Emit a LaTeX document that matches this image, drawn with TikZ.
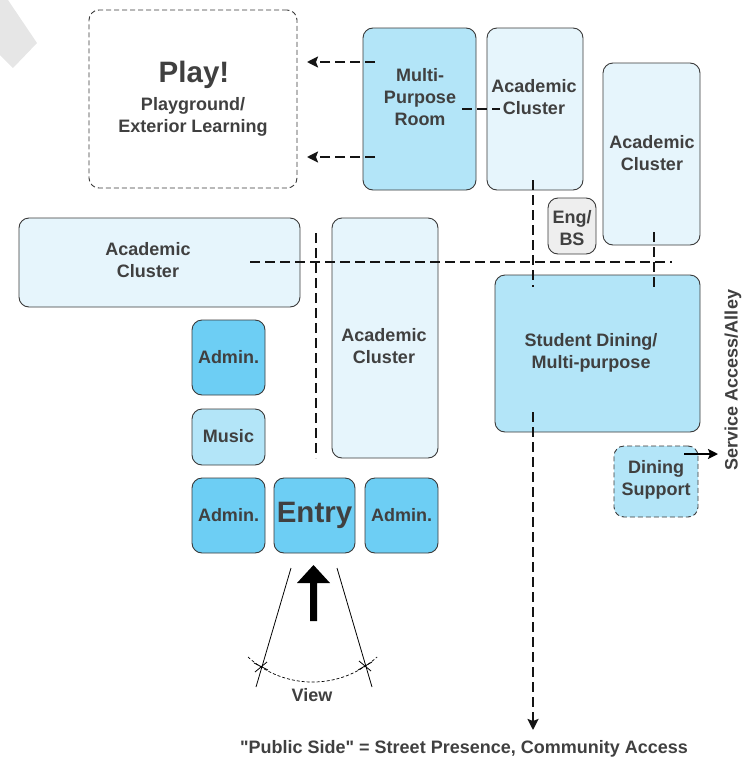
\documentclass[tikz,border=0pt]{standalone}
\usepackage{fontspec}
\setmainfont{Liberation Sans}
\usetikzlibrary{arrows.meta}

\definecolor{medblue}{HTML}{6DCEF4}
\definecolor{lightblue}{HTML}{B3E5F8}
\definecolor{paleblue}{HTML}{E6F5FC}
\definecolor{enggray}{HTML}{EEEEEE}
\definecolor{inkgray}{HTML}{404040}
\definecolor{edgegray}{HTML}{3A3A3A}
\definecolor{cornergray}{HTML}{E6E6E6}

\tikzset{
  room/.style={draw=edgegray, line width=0.9pt, rounded corners=10pt, inner sep=0pt},
  openroom/.style={room, dash pattern=on 5pt off 3pt, draw=edgegray},
  lbl/.style={text=inkgray, font=\bfseries\fontsize{18}{22}\selectfont, align=center, inner sep=0pt},
  biglbl/.style={lbl, font=\bfseries\fontsize{29.5}{32}\selectfont},
  sitelbl/.style={lbl, font=\bfseries\fontsize{18}{21}\selectfont},
  flow/.style={line width=2.8pt, dash pattern=on 10pt off 5pt, draw=black!92},
  flowtip/.style={flow, -{Stealth[length=11pt,width=11pt,inset=2pt]}},
  sightline/.style={line width=0.8pt, black}
}

\begin{document}
\begin{tikzpicture}[x=1pt,y=-1pt]
\useasboundingbox (0,0) rectangle (753,763);

% grey corner tab
\fill[cornergray] (0,0) -- (8,0) -- (37,43) -- (13,68) -- (0,55) -- cycle;

% ---- rooms ----
\node[openroom, fill=white, minimum width=208pt, minimum height=178pt] (play) at (193,99) {};
\node[room, fill=lightblue, minimum width=113pt, minimum height=162pt] (mpr) at (419.5,109) {};
\node[room, fill=paleblue, minimum width=96pt, minimum height=162pt] (acTop) at (535,109) {};
\node[room, fill=paleblue, minimum width=97pt, minimum height=182pt] (acRight) at (651.5,154) {};
\node[room, fill=enggray, minimum width=48pt, minimum height=56pt] (eng) at (572,226) {};
\node[room, fill=paleblue, minimum width=281pt, minimum height=89pt] (acLeft) at (159.5,262.5) {};
\node[room, fill=paleblue, minimum width=106pt, minimum height=240pt] (acMid) at (385,338) {};
\node[room, fill=lightblue, minimum width=205pt, minimum height=157pt] (dining) at (597.5,353.5) {};
\node[openroom, fill=lightblue, minimum width=84pt, minimum height=71pt] (dsup) at (656,481.5) {};
\node[room, fill=medblue, minimum width=73pt, minimum height=75pt] (adminA) at (228.5,357.5) {};
\node[room, fill=lightblue, minimum width=73pt, minimum height=56pt] (music) at (228.5,437) {};
\node[room, fill=medblue, minimum width=73pt, minimum height=75pt] (adminB) at (228.5,515.5) {};
\node[room, fill=medblue, minimum width=81pt, minimum height=75pt] (entry) at (314.5,515.5) {};
\node[room, fill=medblue, minimum width=73pt, minimum height=75pt] (adminC) at (401.5,515.5) {};

% ---- room labels ----
\node[biglbl] (playT) at (194,75) {Play!};
\node[lbl] (playS) at (193,117) {Playground/\\Exterior Learning};
\node[lbl] (mprT) at (420,97) {Multi-\\Purpose\\Room};
\node[lbl] (acTopT) at (534,97.5) {Academic\\Cluster};
\node[lbl] (acRightT) at (652,153.5) {Academic\\Cluster};
\node[lbl] (engT) at (572,228) {Eng/\\BS};
\node[lbl] (acLeftT) at (148,260) {Academic\\Cluster};
\node[lbl] (acMidT) at (384,346) {Academic\\Cluster};
\node[lbl] (diningT) at (591,353) {Student Dining/\\Multi-purpose};
\node[lbl] (dsupT) at (656,480) {Dining\\Support};
\node[lbl] (adminAT) at (228.5,357) {Admin.};
\node[lbl] (musicT) at (228.5,436) {Music};
\node[lbl] (adminBT) at (228.5,515) {Admin.};
\node[biglbl] (entryT) at (314.5,515) {Entry};
\node[lbl] (adminCT) at (401.5,515) {Admin.};

% ---- circulation ----
\coordinate (mprW1) at (375,62);   \coordinate (playE1) at (307,62);
\coordinate (mprW2) at (375,157);  \coordinate (playE2) at (307,157);
\coordinate (mprE) at (462,109);   \coordinate (acTopW) at (500,109);
\coordinate (acTopS) at (533,180); \coordinate (diningN1) at (533,287);
\coordinate (acRightS) at (654,232); \coordinate (diningN2) at (654,288);
\coordinate (spineW) at (250,262); \coordinate (spineE) at (672,262);
\coordinate (hallN) at (316,233);  \coordinate (hallS) at (316,458);
\coordinate (diningS) at (533,412); \coordinate (street) at (533,730);
\coordinate (dsupE) at (684,454);  \coordinate (alley) at (718,454);

\draw[flowtip] (mprW1) -- (playE1);
\draw[flowtip] (mprW2) -- (playE2);
\draw[flow] (mprE) -- (acTopW);
\draw[flow] (acTopS) -- (diningN1);
\draw[flow] (acRightS) -- (diningN2);
\draw[flow] (spineW) -- (spineE);
\draw[flow] (hallN) -- (hallS);
\draw[flowtip] (diningS) -- (street);
\draw[line width=2.8pt, -{Stealth[length=10pt,width=10pt,inset=2pt]}] (dsupE) -- (alley);

% ---- view cone ----
\fill[black] (313.5,565) -- (330,583) -- (317,583) -- (317,621) -- (310,621) -- (310,583) -- (297,583) -- cycle;
\draw[sightline] (291,568) -- (256,687);
\draw[sightline] (337,568) -- (372,687);
\draw[line width=0.7pt, dash pattern=on 3pt off 2pt] (248,657) arc[start angle=227.6, end angle=312.4, radius=95.7pt];
\draw[sightline] (254,663) -- (268,670) (255,672) -- (267,662);
\draw[sightline] (358,670) -- (372,662) (359,661) -- (371,671);
\node[sitelbl] (viewT) at (312,695) {View};

% ---- site edges ----
\node[sitelbl, rotate=90] (alleyT) at (733,380) {Service Access/Alley};
\node[sitelbl] (streetT) at (464,749) {\textquotedbl Public Side\textquotedbl{} = Street Presence, Community Access};
\end{tikzpicture}
\end{document}
